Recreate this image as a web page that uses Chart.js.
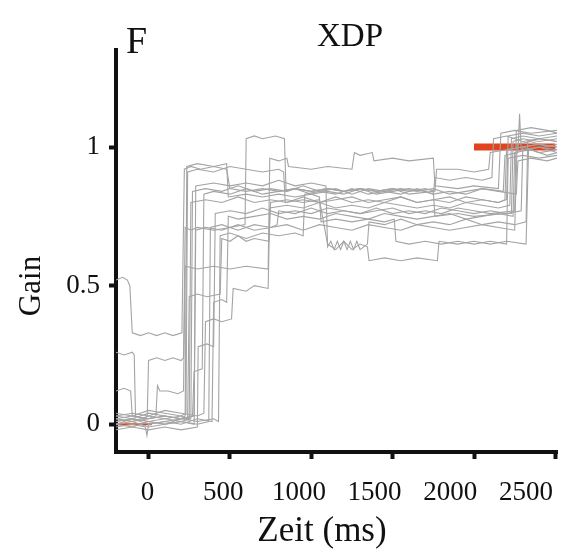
<!DOCTYPE html>
<html>
<head>
<meta charset="utf-8">
<script src="https://cdn.jsdelivr.net/npm/chart.js@4.4.1/dist/chart.umd.min.js"></script>
<style>
  html, body { margin: 0; padding: 0; background: #fff; }
  #wrap { width: 561px; height: 552px; }
</style>
</head>
<body>
<div id="wrap"><canvas id="gainChart" width="561" height="552"></canvas></div>
<script>
// panel texts
const panelLetter = 'F';
const panelTitle = 'XDP';
const xTitle = 'Zeit (ms)';
const yTitle = 'Gain';

// tick values
const xTicks = [0, 500, 1000, 1500, 2000, 2500];
const yTicks = [0, 0.5, 1];

// single trials, [ms, gain]
const trial01 = [[-200,0.52],[-160,0.53],[-130,0.52],[-115,0.50],[-100,0.33],[-50,0.32],[0,0.33],[50,0.32],[100,0.33],[150,0.32],[205,0.33],[220,0.92],[260,0.93],[320,0.92],[400,0.93],[480,0.92],[500,0.85],[600,0.84],[700,0.85],[800,0.84],[900,0.85],[1000,0.84],[1100,0.85],[1200,0.84],[1300,0.85],[1400,0.84],[1500,0.85],[1600,0.84],[1700,0.85],[1760,0.84],[1770,0.92],[1900,0.92],[2000,0.91],[2090,0.92],[2100,0.98],[2200,0.99],[2300,1.0],[2400,1.01],[2510,1.0]];
const trial02 = [[-200,0.26],[-150,0.25],[-100,0.26],[-88,0.25],[-80,0.03],[-20,0.02],[-8,0.03],[0,0.23],[50,0.24],[100,0.23],[150,0.24],[200,0.23],[215,0.24],[225,0.71],[260,0.70],[300,0.71],[400,0.70],[500,0.71],[593,0.72],[600,1.03],[650,1.04],[700,1.03],[780,1.04],[835,1.03],[845,0.84],[900,0.85],[1000,0.84],[1100,0.85],[1200,0.84],[1300,0.85],[1400,0.84],[1500,0.85],[1600,0.83],[1750,0.84],[1760,0.75],[1900,0.76],[2000,0.75],[2200,0.76],[2230,0.76],[2240,1.02],[2300,1.03],[2400,1.02],[2510,1.03]];
const trial03 = [[-200,0.12],[-150,0.13],[-110,0.12],[-100,0.03],[0,0.02],[45,0.03],[55,0.14],[70,0.12],[120,0.12],[180,0.11],[215,0.12],[225,0.57],[300,0.56],[400,0.57],[500,0.56],[600,0.57],[735,0.56],[745,0.96],[800,0.95],[850,0.96],[860,0.93],[1000,0.92],[1100,0.93],[1250,0.92],[1265,0.98],[1300,0.97],[1375,0.98],[1385,0.95],[1500,0.96],[1600,0.95],[1750,0.96],[1760,0.86],[1900,0.85],[2000,0.86],[2150,0.85],[2165,1.05],[2250,1.06],[2350,1.05],[2510,1.06]];
const trial04 = [[-200,0.01],[-100,0.02],[0,0.0],[100,0.01],[200,0.02],[240,0.02],[250,0.46],[300,0.47],[360,0.46],[440,0.47],[450,0.67],[500,0.66],[550,0.68],[600,0.66],[650,0.67],[740,0.66],[750,0.80],[850,0.81],[950,0.80],[1050,0.81],[1100,0.65],[1150,0.63],[1200,0.66],[1250,0.63],[1300,0.65],[1345,0.64],[1355,0.59],[1450,0.60],[1550,0.59],[1650,0.60],[1775,0.59],[1785,0.66],[1900,0.65],[2000,0.66],[2100,0.65],[2200,0.66],[2320,0.65],[2335,0.99],[2400,1.0],[2510,0.99]];
const trial05 = [[-200,0.02],[-100,0.01],[0,0.03],[100,0.02],[200,0.01],[260,0.02],[270,0.84],[350,0.85],[450,0.84],[550,0.86],[650,0.84],[750,0.85],[850,0.84],[950,0.86],[1050,0.84],[1150,0.85],[1250,0.83],[1350,0.85],[1450,0.84],[1550,0.85],[1650,0.84],[1750,0.85],[1850,0.83],[1950,0.84],[2050,0.85],[2180,0.84],[2190,0.97],[2270,0.98],[2280,1.12],[2290,0.99],[2400,1.0],[2510,0.98]];
const trial06 = [[-200,0.0],[-100,-0.01],[0,0.01],[100,0.0],[200,0.01],[280,0.0],[290,0.70],[350,0.71],[450,0.70],[550,0.72],[650,0.70],[750,0.71],[850,0.72],[950,0.70],[1050,0.72],[1150,0.71],[1250,0.70],[1350,0.72],[1450,0.71],[1550,0.70],[1650,0.72],[1750,0.71],[1850,0.70],[1950,0.71],[2050,0.72],[2150,0.71],[2250,0.70],[2265,1.01],[2350,1.02],[2450,1.0],[2510,1.01]];
const trial07 = [[-200,0.03],[-100,0.04],[0,0.03],[100,0.05],[200,0.04],[300,0.03],[340,0.04],[350,0.37],[400,0.38],[450,0.37],[510,0.38],[520,0.49],[600,0.48],[650,0.50],[735,0.49],[745,0.78],[850,0.79],[950,0.78],[1050,0.80],[1150,0.78],[1250,0.79],[1350,0.78],[1450,0.80],[1550,0.79],[1650,0.78],[1750,0.79],[1850,0.78],[1950,0.80],[2050,0.79],[2150,0.78],[2220,0.79],[2230,1.03],[2300,1.04],[2400,1.03],[2510,1.04]];
const trial08 = [[-200,-0.01],[-100,0.0],[-20,-0.01],[-10,-0.04],[0,0.0],[100,0.01],[200,0.0],[300,0.02],[390,0.01],[400,0.44],[450,0.45],[480,0.44],[490,0.75],[550,0.74],[650,0.75],[750,0.76],[850,0.74],[950,0.75],[1050,0.74],[1150,0.76],[1250,0.75],[1350,0.74],[1450,0.76],[1550,0.75],[1650,0.74],[1750,0.75],[1850,0.76],[1950,0.74],[2050,0.75],[2150,0.76],[2240,0.75],[2250,0.98],[2350,0.99],[2450,0.97],[2510,0.98]];
const trial09 = [[-200,0.02],[-100,0.03],[0,0.02],[100,0.03],[200,0.02],[225,0.03],[235,0.93],[300,0.94],[400,0.93],[480,0.94],[490,0.82],[600,0.83],[700,0.82],[800,0.83],[900,0.82],[1000,0.83],[1050,0.82],[1060,0.73],[1150,0.74],[1250,0.73],[1350,0.74],[1450,0.73],[1510,0.74],[1520,0.66],[1600,0.65],[1700,0.66],[1800,0.65],[1900,0.66],[2000,0.65],[2100,0.66],[2200,0.65],[2210,0.96],[2300,0.97],[2400,0.96],[2510,0.97]];
const trial10 = [[-200,0.01],[-100,0.02],[0,0.01],[100,0.02],[200,0.03],[250,0.02],[260,0.80],[350,0.81],[450,0.80],[550,0.82],[650,0.80],[750,0.81],[850,0.80],[950,0.82],[1050,0.80],[1150,0.81],[1250,0.82],[1350,0.80],[1450,0.81],[1550,0.82],[1650,0.80],[1750,0.81],[1850,0.82],[1950,0.80],[2050,0.81],[2150,0.80],[2200,0.81],[2210,1.04],[2300,1.05],[2400,1.04],[2510,1.05]];
const trial11 = [[-200,0.0],[-100,0.01],[0,-0.01],[100,0.0],[200,0.01],[300,0.0],[370,0.01],[380,0.71],[450,0.72],[550,0.70],[650,0.72],[750,0.71],[790,0.72],[800,0.77],[900,0.76],[1000,0.78],[1100,0.76],[1200,0.77],[1300,0.76],[1400,0.78],[1500,0.76],[1600,0.77],[1700,0.76],[1800,0.78],[1900,0.77],[2000,0.76],[2100,0.77],[2200,0.76],[2290,0.77],[2300,1.0],[2400,1.01],[2510,1.0]];
const trial12 = [[-200,0.02],[-100,0.01],[0,0.02],[100,0.03],[200,0.02],[280,0.03],[290,0.86],[400,0.87],[500,0.86],[600,0.87],[700,0.86],[800,0.88],[900,0.86],[1000,0.87],[1090,0.86],[1100,0.64],[1120,0.66],[1140,0.63],[1160,0.66],[1180,0.63],[1200,0.66],[1220,0.63],[1240,0.66],[1260,0.63],[1280,0.66],[1300,0.63],[1345,0.65],[1355,0.73],[1450,0.72],[1550,0.74],[1650,0.72],[1750,0.73],[1850,0.72],[1950,0.74],[2050,0.72],[2150,0.73],[2250,0.72],[2320,0.73],[2330,1.02],[2400,1.03],[2510,1.02]];
const trial13 = [[-200,0.04],[-100,0.03],[0,0.05],[100,0.04],[200,0.03],[230,0.04],[240,0.91],[300,0.92],[400,0.91],[500,0.93],[600,0.92],[700,0.91],[800,0.92],[830,0.91],[840,0.80],[950,0.81],[1050,0.80],[1150,0.82],[1250,0.80],[1350,0.81],[1450,0.80],[1550,0.82],[1650,0.80],[1750,0.81],[1850,0.80],[1950,0.82],[2050,0.81],[2150,0.80],[2190,0.81],[2200,0.99],[2300,1.0],[2400,0.98],[2510,0.99]];
const trial14 = [[-200,0.0],[-100,0.02],[0,0.01],[100,0.0],[200,0.02],[300,0.01],[400,0.02],[430,0.01],[440,0.68],[500,0.69],[600,0.67],[700,0.69],[800,0.68],[900,0.69],[950,0.68],[960,0.83],[1050,0.84],[1150,0.83],[1250,0.85],[1350,0.83],[1450,0.84],[1550,0.83],[1650,0.85],[1750,0.83],[1850,0.84],[1950,0.83],[2050,0.85],[2150,0.84],[2260,0.83],[2270,0.95],[2350,0.96],[2450,0.95],[2510,0.96]];
const trial15 = [[-200,-0.02],[-100,-0.01],[0,-0.02],[100,-0.01],[200,-0.02],[300,-0.01],[305,0.28],[360,0.29],[400,0.28],[410,0.76],[500,0.77],[600,0.76],[700,0.78],[800,0.76],[900,0.77],[1000,0.76],[1100,0.78],[1200,0.77],[1300,0.76],[1400,0.77],[1500,0.78],[1600,0.76],[1700,0.77],[1800,0.76],[1900,0.78],[2000,0.77],[2100,0.76],[2250,0.77],[2260,1.06],[2350,1.07],[2450,1.06],[2510,1.05]];
const trial16 = [[-200,0.03],[-100,0.02],[0,0.04],[100,0.03],[200,0.02],[270,0.03],[280,0.19],[330,0.20],[340,0.83],[400,0.84],[500,0.83],[600,0.85],[700,0.83],[800,0.84],[900,0.85],[1000,0.83],[1100,0.84],[1200,0.83],[1300,0.85],[1400,0.83],[1500,0.84],[1600,0.85],[1700,0.84],[1750,0.83],[1760,0.89],[1850,0.88],[1950,0.89],[2050,0.88],[2110,0.89],[2120,1.03],[2200,1.04],[2300,1.02],[2400,1.03],[2510,1.02]];

// reference levels (red)
const baseline = [[-200,0],[20,0]];
const target = [[2000,1],[2500,1]];

const trials = [trial01, trial02, trial03, trial04, trial05, trial06, trial07, trial08,
                trial09, trial10, trial11, trial12, trial13, trial14, trial15, trial16];

const serif = '"Liberation Serif", "Times New Roman", serif';

const datasets = trials.map(t => ({
  data: t,
  borderColor: '#a4a4a4',
  borderWidth: 1.1,
  pointRadius: 0,
  tension: 0,
  order: 0
}));
datasets.push({ data: baseline, borderColor: '#e2431c', borderWidth: 2, pointRadius: 0, order: 1 });
datasets.push({ data: target, borderColor: '#e2431c', borderWidth: 7, pointRadius: 0, borderCapStyle: 'butt', order: 1 });

// letter, title, x labels and axis names drawn at their own spots
// (x labels in the original sit a little tighter than the tick marks)
const panelText = {
  id: 'panelText',
  afterDraw(chart) {
    const ctx = chart.ctx;
    const xs = chart.scales.x;
    ctx.save();
    ctx.fillStyle = '#111';
    ctx.textBaseline = 'alphabetic';
    ctx.font = '38px ' + serif;
    ctx.fillText(panelLetter, 126, 53);
    ctx.textAlign = 'center';
    ctx.font = '33px ' + serif;
    ctx.fillText(panelTitle, 350, 46);

    ctx.font = '27px ' + serif;
    const x0 = xs.getPixelForValue(0);
    xTicks.forEach(v => {
      const px = xs.getPixelForValue(v);
      ctx.fillText(String(v), x0 - 1 + (px - x0) * 0.93, 500);
    });

    ctx.font = '35px ' + serif;
    ctx.fillText(xTitle, 322, 541);
    ctx.translate(40, 286);
    ctx.rotate(-Math.PI / 2);
    ctx.font = '31px ' + serif;
    ctx.fillText(yTitle, 0, 0);
    ctx.restore();
  }
};

new Chart(document.getElementById('gainChart').getContext('2d'), {
  type: 'line',
  data: { datasets },
  plugins: [panelText],
  options: {
    responsive: false,
    animation: false,
    layout: { padding: { top: 50, right: 4, left: 0, bottom: 0 } },
    plugins: {
      legend: { display: false },
      tooltip: { enabled: false }
    },
    scales: {
      x: {
        type: 'linear',
        min: -200,
        max: 2510,
        afterBuildTicks: s => { s.ticks = xTicks.map(v => ({ value: v })); },
        afterFit: s => { s.height = 100; s.paddingLeft = 0; s.paddingRight = 0; },
        border: { display: true, color: '#111', width: 4 },
        grid: { drawOnChartArea: false, drawTicks: true, tickLength: 7, tickWidth: 4, tickColor: '#111' },
        ticks: { display: false }
      },
      y: {
        type: 'linear',
        min: -0.1,
        max: 1.35,
        afterBuildTicks: s => { s.ticks = yTicks.map(v => ({ value: v })); },
        afterFit: s => { s.width = 116; s.paddingTop = 0; s.paddingBottom = 0; },
        border: { display: true, color: '#111', width: 4 },
        grid: { drawOnChartArea: false, drawTicks: true, tickLength: 7, tickWidth: 4, tickColor: '#111' },
        ticks: { color: '#111', padding: 9, font: { family: serif, size: 27 }, callback: v => String(v) }
      }
    }
  }
});
</script>
</body>
</html>
